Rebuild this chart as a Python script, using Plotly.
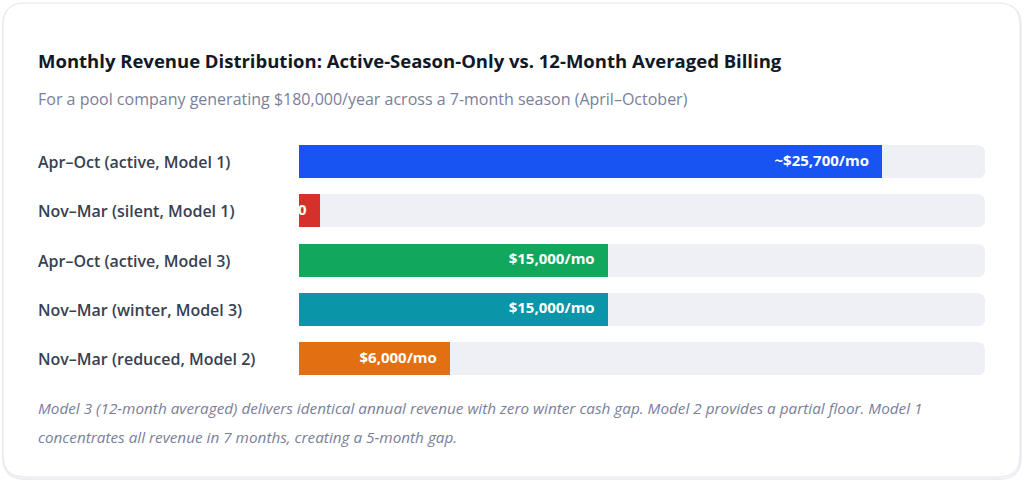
import plotly.graph_objects as go

# rows, top to bottom
CATEGORIES = [
    "Apr–Oct (active, Model 1)",
    "Nov–Mar (silent, Model 1)",
    "Apr–Oct (active, Model 3)",
    "Nov–Mar (winter, Model 3)",
    "Nov–Mar (reduced, Model 2)",
]
# bar length as % of the track
BAR_PCT = [85, 3, 45, 45, 22]
BAR_LABELS = ["~$25,700/mo", "$0", "$15,000/mo", "$15,000/mo", "$6,000/mo"]
BAR_COLORS = ["#1854f2", "#d6302a", "#11a85e", "#0a96a8", "#e27012"]
TRACK_MAX = 100

TITLE = "Monthly Revenue Distribution: Active-Season-Only vs. 12-Month Averaged Billing"
SUBTITLE = "For a pool company generating $180,000/year across a 7-month season (April–October)"
FOOTNOTE_LINES = [
    "Model 3 (12-month averaged) delivers identical annual revenue with zero winter cash gap. "
    "Model 2 provides a partial floor. Model 1",
    "concentrates all revenue in 7 months, creating a 5-month gap.",
]

W, H = 1024, 481
FONT = "Open Sans"
LEFT = 36 / W  # left text edge, paper units


def rounded_rect(x0, y0, x1, y1, r):
    # pixel box -> paper-coordinate path with rounded corners
    def px(x):
        return x / W

    def py(y):
        return 1 - y / H

    return (
        f"M {px(x0 + r)},{py(y0)} L {px(x1 - r)},{py(y0)} "
        f"Q {px(x1)},{py(y0)} {px(x1)},{py(y0 + r)} L {px(x1)},{py(y1 - r)} "
        f"Q {px(x1)},{py(y1)} {px(x1 - r)},{py(y1)} L {px(x0 + r)},{py(y1)} "
        f"Q {px(x0)},{py(y1)} {px(x0)},{py(y1 - r)} L {px(x0)},{py(y0 + r)} "
        f"Q {px(x0)},{py(y0)} {px(x0 + r)},{py(y0)} Z"
    )


fig = go.Figure()

fig.add_trace(
    go.Bar(
        x=[TRACK_MAX] * len(CATEGORIES),
        y=CATEGORIES,
        orientation="h",
        width=0.67,
        marker=dict(color="#eef0f5", cornerradius=7, line=dict(width=0)),
        hoverinfo="skip",
        showlegend=False,
    )
)
fig.add_trace(
    go.Bar(
        x=BAR_PCT,
        y=CATEGORIES,
        orientation="h",
        width=0.67,
        marker=dict(color=BAR_COLORS, cornerradius=7, line=dict(width=0)),
        showlegend=False,
    )
)
# value labels, right-aligned just inside the bar end; clipped at the track start
fig.add_trace(
    go.Scatter(
        x=[v - 1.9 for v in BAR_PCT],
        y=CATEGORIES,
        mode="text",
        text=BAR_LABELS,
        textposition="middle left",
        textfont=dict(family=FONT, size=15, color="#ffffff", weight="bold"),
        cliponaxis=True,
        hoverinfo="skip",
        showlegend=False,
    )
)

annotations = [
    dict(
        text=f"<b>{TITLE}</b>", x=LEFT, y=1 - 60 / H, xref="paper", yref="paper",
        xanchor="left", yanchor="middle", showarrow=False,
        font=dict(family=FONT, size=18.5, color="#111827"),
    ),
    dict(
        text=SUBTITLE, x=LEFT, y=1 - 99 / H, xref="paper", yref="paper",
        xanchor="left", yanchor="middle", showarrow=False,
        font=dict(family=FONT, size=16, color="#7a8099"),
    ),
]
for i, line in enumerate(FOOTNOTE_LINES):
    annotations.append(
        dict(
            text=f"<i>{line}</i>", x=LEFT, y=1 - (408 + 29 * i) / H, xref="paper",
            yref="paper", xanchor="left", yanchor="middle", showarrow=False,
            font=dict(family=FONT, size=15.3, color="#7a8099"),
        )
    )
for cat in CATEGORIES:
    annotations.append(
        dict(
            text=cat, x=LEFT, y=cat, xref="paper", yref="y",
            xanchor="left", yanchor="middle", showarrow=False,
            font=dict(family=FONT, size=16, color="#374151", weight=600),
        )
    )

fig.update_layout(
    width=W,
    height=H,
    barmode="overlay",
    bargap=0,
    margin=dict(l=0, r=0, t=0, b=0),
    paper_bgcolor="#ffffff",
    plot_bgcolor="rgba(0,0,0,0)",
    xaxis=dict(
        domain=[299 / W, 985 / W], range=[0, TRACK_MAX], visible=False, fixedrange=True,
    ),
    yaxis=dict(
        domain=[1 - 383.6 / H, 1 - 137.4 / H], range=[4.5, -0.5], visible=False,
        fixedrange=True,
    ),
    shapes=[
        dict(type="path", xref="paper", yref="paper", path=rounded_rect(3, 4, 1021, 479, 22),
             line=dict(color="#eceef2", width=2), fillcolor="rgba(0,0,0,0)", layer="below"),
        dict(type="path", xref="paper", yref="paper", path=rounded_rect(3, 3, 1020, 477, 22),
             line=dict(color="#e2e5ea", width=1), fillcolor="#ffffff", layer="below"),
    ],
    annotations=annotations,
    showlegend=False,
)

fig.write_html(
    "out.html",
    config={"displayModeBar": False},
    post_script="document.body.style.margin='0';document.body.style.overflow='hidden';",
)
